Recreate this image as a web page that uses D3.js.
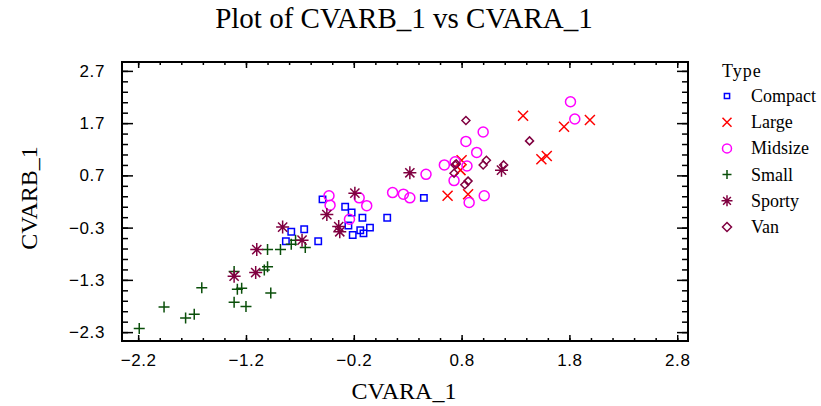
<!DOCTYPE html>
<html lang="en">
<head>
    <meta charset="UTF-8">
    <title>Plot of CVARB_1 vs CVARA_1</title>
    <script src="https://d3js.org/d3.v7.min.js"></script>
    <style>
        body { margin: 0; background: #fff; }
    </style>
</head>
<body>
    <div id="chart"></div>

    <script>
        // points, [CVARA_1, CVARB_1]
        const compact = [[-0.78, -0.38], [-0.83, -0.56], [-0.66, -0.33], [-0.53, -0.56], [-0.49, 0.24],
            [-0.28, 0.10], [-0.22, -0.01], [-0.12, -0.11], [-0.25, -0.26], [-0.14, -0.35],
            [-0.21, -0.44], [-0.11, -0.41], [-0.05, -0.30], [0.11, -0.11], [0.45, 0.27]];
        const large = [[0.67, 0.31], [0.86, 0.34], [0.80, 0.99], [0.79, 0.80], [1.37, 1.84],
            [1.75, 1.63], [1.99, 1.76], [1.54, 1.01], [1.59, 1.07]];
        const midsize = [[-0.43, 0.31], [-0.42, 0.13], [-0.15, 0.27], [-0.08, 0.12], [-0.24, -0.14],
            [0.16, 0.37], [0.26, 0.34], [0.32, 0.27], [0.47, 0.72], [0.64, 0.90], [0.73, 0.60],
            [0.85, 0.88], [0.87, 0.18], [1.01, 0.31], [0.74, 0.96], [0.84, 1.35], [0.94, 1.14],
            [1.00, 1.53], [1.81, 2.11], [1.85, 1.78]];
        const small = [[-2.19, -2.23], [-1.96, -1.82], [-1.76, -2.03], [-1.68, -1.96], [-1.61, -1.45],
            [-1.31, -1.73], [-1.31, -1.14], [-1.28, -1.48], [-1.24, -1.46], [-1.20, -1.81],
            [-0.97, -1.55], [-1.03, -1.11], [-1.00, -1.05], [-1.00, -0.72], [-0.88, -0.72],
            [-0.78, -0.62], [-0.74, -0.54], [-0.65, -0.68]];
        const sporty = [[-1.31, -1.23], [-1.11, -1.16], [-1.10, -0.72], [-0.86, -0.29], [-0.68, -0.54],
            [0.32, 0.75], [-0.19, 0.36], [-0.45, -0.05], [-0.34, -0.28], [-0.33, -0.38], [1.17, 0.80]];
        const van = [[0.74, 0.90], [0.73, 0.74], [0.83, 0.52], [0.86, 0.59], [1.00, 0.90],
            [0.84, 1.75], [0.75, 0.92], [1.03, 0.99], [1.19, 0.90], [1.43, 1.36]];

        const xTicks = [-2.2, -1.2, -0.2, 0.8, 1.8, 2.8];
        const yTicks = [-2.3, -1.3, -0.3, 0.7, 1.7, 2.7];

        // simple stroked markers
        const marks = {
            square: s => `M${-s},${-s}H${s}V${s}H${-s}Z`,
            times: s => `M${-s},${-s}L${s},${s}M${-s},${s}L${s},${-s}`,
            circle: s => `M${s},0A${s},${s} 0 1,1 ${-s},0A${s},${s} 0 1,1 ${s},0Z`,
            plus: s => `M${-s},0H${s}M0,${-s}V${s}`,
            asterisk: s => {
                const d = s * 0.707;
                return `M0,${-s}V${s}M${-d},${-d}L${d},${d}M${-d},${d}L${d},${-d}M${-s},0H${s}`;
            },
            diamond: s => `M0,${-s}L${s},0L0,${s}L${-s},0Z`
        };

        const groups = [
            { name: "Compact", data: compact, mark: "square", size: 3.2, color: "#0000ff" },
            { name: "Large", data: large, mark: "times", size: 5, color: "#ff0000" },
            { name: "Midsize", data: midsize, mark: "circle", size: 5, color: "#ff00ff" },
            { name: "Small", data: small, mark: "plus", size: 5.5, color: "#0a4f0a" },
            { name: "Sporty", data: sporty, mark: "asterisk", size: 6.5, color: "#800040" },
            { name: "Van", data: van, mark: "diamond", size: 4, color: "#800040" }
        ];

        const width = 821, height = 406;
        const pLeft = 122, pRight = 688, pTop = 62, pBottom = 341;

        const svg = d3.select("#chart").append("svg")
            .attr("width", width)
            .attr("height", height);

        const x = d3.scaleLinear().domain([-2.35, 2.9]).range([pLeft, pRight]);
        const y = d3.scaleLinear().domain([-2.47, 2.87]).range([pBottom, pTop]);

        const xMinor = d3.range(-2.2, 2.81, 0.2).map(v => +v.toFixed(2));
        const yMinor = d3.range(-2.3, 2.71, 0.2).map(v => +v.toFixed(2));

        function axes(axisFn, scale, tf, major, minor, majLen, minLen, pad, labels) {
            svg.append("g")
                .attr("transform", tf)
                .call(axisFn(scale).tickValues(minor).tickSize(-minLen).tickFormat(""))
                .call(g => g.select(".domain").remove());
            const g = svg.append("g")
                .attr("transform", tf)
                .call(axisFn(scale).tickValues(major).tickSize(-majLen).tickPadding(majLen + pad)
                    .tickFormat(labels ? d3.format(".1f") : ""));
            g.select(".domain").remove();
            g.selectAll("text")
                .attr("font-family", "Liberation Sans, Arial, sans-serif")
                .attr("font-size", 17)
                .attr("letter-spacing", 0.6)
                .attr("fill", "#000");
            svg.selectAll(".tick line").attr("stroke", "#000").attr("stroke-width", 1.5);
        }

        axes(d3.axisBottom, x, `translate(0,${pBottom})`, xTicks, xMinor, 6, 3, 7, true);
        axes(d3.axisTop, x, `translate(0,${pTop})`, xTicks, xMinor, 6, 3, 7, false);
        axes(d3.axisLeft, y, `translate(${pLeft},0)`, yTicks, yMinor, 11, 6, 6, true);
        axes(d3.axisRight, y, `translate(${pRight},0)`, yTicks, yMinor, 11, 6, 6, false);

        svg.append("rect")
            .attr("x", pLeft).attr("y", pTop)
            .attr("width", pRight - pLeft).attr("height", pBottom - pTop)
            .attr("fill", "none").attr("stroke", "#000").attr("stroke-width", 2);

        // points
        groups.forEach(gr => {
            svg.append("g").selectAll("path")
                .data(gr.data)
                .enter()
                .append("path")
                .attr("transform", d => `translate(${x(d[0])},${y(d[1])})`)
                .attr("d", marks[gr.mark](gr.size))
                .attr("fill", "none")
                .attr("stroke", gr.color)
                .attr("stroke-width", 1.5);
        });

        // titles
        svg.append("text")
            .attr("x", 404).attr("y", 28)
            .attr("text-anchor", "middle")
            .attr("font-family", "Liberation Serif, Times New Roman, serif")
            .attr("font-size", 29)
            .text("Plot of CVARB_1 vs CVARA_1");

        svg.append("text")
            .attr("x", 404).attr("y", 399)
            .attr("text-anchor", "middle")
            .attr("font-family", "Liberation Serif, Times New Roman, serif")
            .attr("font-size", 24)
            .text("CVARA_1");

        svg.append("text")
            .attr("transform", "translate(37,198) rotate(-90)")
            .attr("text-anchor", "middle")
            .attr("font-family", "Liberation Serif, Times New Roman, serif")
            .attr("font-size", 24)
            .text("CVARB_1");

        // legend
        const legend = svg.append("g").attr("transform", "translate(722,0)");
        legend.append("text")
            .attr("x", 0).attr("y", 77)
            .attr("font-family", "Liberation Serif, Times New Roman, serif")
            .attr("font-size", 18)
            .attr("letter-spacing", 1)
            .text("Type");

        const item = legend.selectAll(".item")
            .data(groups)
            .enter()
            .append("g")
            .attr("transform", (d, i) => `translate(0,${96 + i * 26.2})`);

        item.append("path")
            .attr("transform", "translate(5,0)")
            .attr("d", d => marks[d.mark](d.mark === "square" ? 2.6 : d.mark === "asterisk" ? 5.5 : 4.5))
            .attr("fill", "none")
            .attr("stroke", d => d.color)
            .attr("stroke-width", 1.5);

        item.append("text")
            .attr("x", 29).attr("y", 6)
            .attr("font-family", "Liberation Serif, Times New Roman, serif")
            .attr("font-size", 18)
            .text(d => d.name);
    </script>
</body>
</html>
